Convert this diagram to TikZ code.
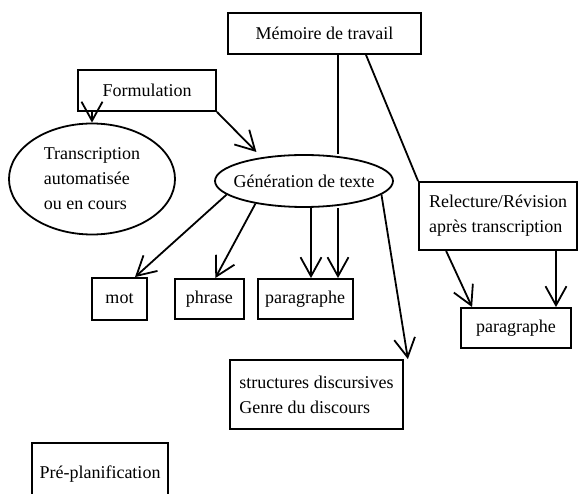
\documentclass[tikz,border=0pt]{standalone}
\usepackage{fontspec}
\setmainfont{Liberation Serif}
\usetikzlibrary{arrows.meta}
\usetikzlibrary{shapes}
\usetikzlibrary{calc}
\usetikzlibrary{positioning}

\begin{document}
\begin{tikzpicture}[x=1pt,y=-1pt]
        \tikzstyle{box}=[rectangle, draw=black, line width=1.8pt, inner sep=0pt]
        \tikzstyle{oval}=[ellipse, draw=black, line width=1.8pt, inner sep=0pt]
        \tikzstyle{txt}=[font=\fontsize{18}{25}\selectfont, align=left]
        \tikzstyle{flow}=[draw, line width=1.8pt, -{Straight Barb[length=19pt,width=21pt]}, black]
        \tikzstyle{link}=[draw, line width=1.8pt, black]

        \useasboundingbox (0,0) rectangle (579,494);
        \clip (0,0) rectangle (579,494);

        \node (mem) at (324.5,33.5) [box,txt,minimum width=193pt,minimum height=41pt]{Mémoire de travail};
        \node (form) at (147,90.5) [box,txt,minimum width=138pt,minimum height=41pt]{Formulation};
        \node (trans) at (92,179) [oval,txt,minimum width=166pt,minimum height=111pt]{Transcription\\automatisée\\ou en cours};
        \node (gen) at (304,181) [oval,txt,inner xsep=-15pt,minimum width=178pt,minimum height=52pt]{Génération de texte};
        \node (rel) at (498,216) [box,txt,minimum width=158pt,minimum height=68pt]{Relecture/Révision\\après transcription};

        \node (mot) at (119.5,299) [box,txt,minimum width=55pt,minimum height=42pt]{mot};
        \node (phr) [box,txt,minimum width=69pt,minimum height=40pt,right=26pt of mot]{phrase};
        \node (par) [box,txt,minimum width=95pt,minimum height=40pt,right=12pt of phr]{paragraphe};
        \node (par2) at (516,328) [box,txt,minimum width=110pt,minimum height=40pt]{paragraphe};
        \node (disc) at (316.5,394.5) [box,txt,minimum width=173pt,minimum height=69pt]{structures discursives\\Genre du discours};
        \node (pre) at (100,474) [box,txt,minimum width=136pt,minimum height=62pt]{Pré-planification};

        \draw[flow] (trans.north |- form.south) -- (trans.north);
        \draw[flow] (form.south east) -- ([shift={(16,-10)}]gen.north west);
        \draw[link] ([xshift=13.5pt]mem.south) -- ([xshift=34pt]gen.north);
        \draw[link] ([xshift=41.5pt]mem.south) -- (rel.north west);

        \draw[flow] (gen.190) -- ([xshift=15.5pt]mot.north);
        \draw[flow] (gen.205) -- ([xshift=6pt]phr.north);
        \draw[flow] ([xshift=7pt]gen.south) -- ([xshift=7pt]gen.south |- par.north);
        \draw[flow] ([xshift=34pt]gen.south) -- ([xshift=34pt]gen.south |- par.north);
        \draw[flow] (gen.350) -- ([xshift=4pt]disc.north east);

        \draw[flow] ([xshift=28pt]rel.south west) -- ([xshift=12pt]par2.north west);
        \draw[flow] ([xshift=58pt]rel.south) -- ([xshift=58pt]rel.south |- par2.north);
\end{tikzpicture}
\end{document}
